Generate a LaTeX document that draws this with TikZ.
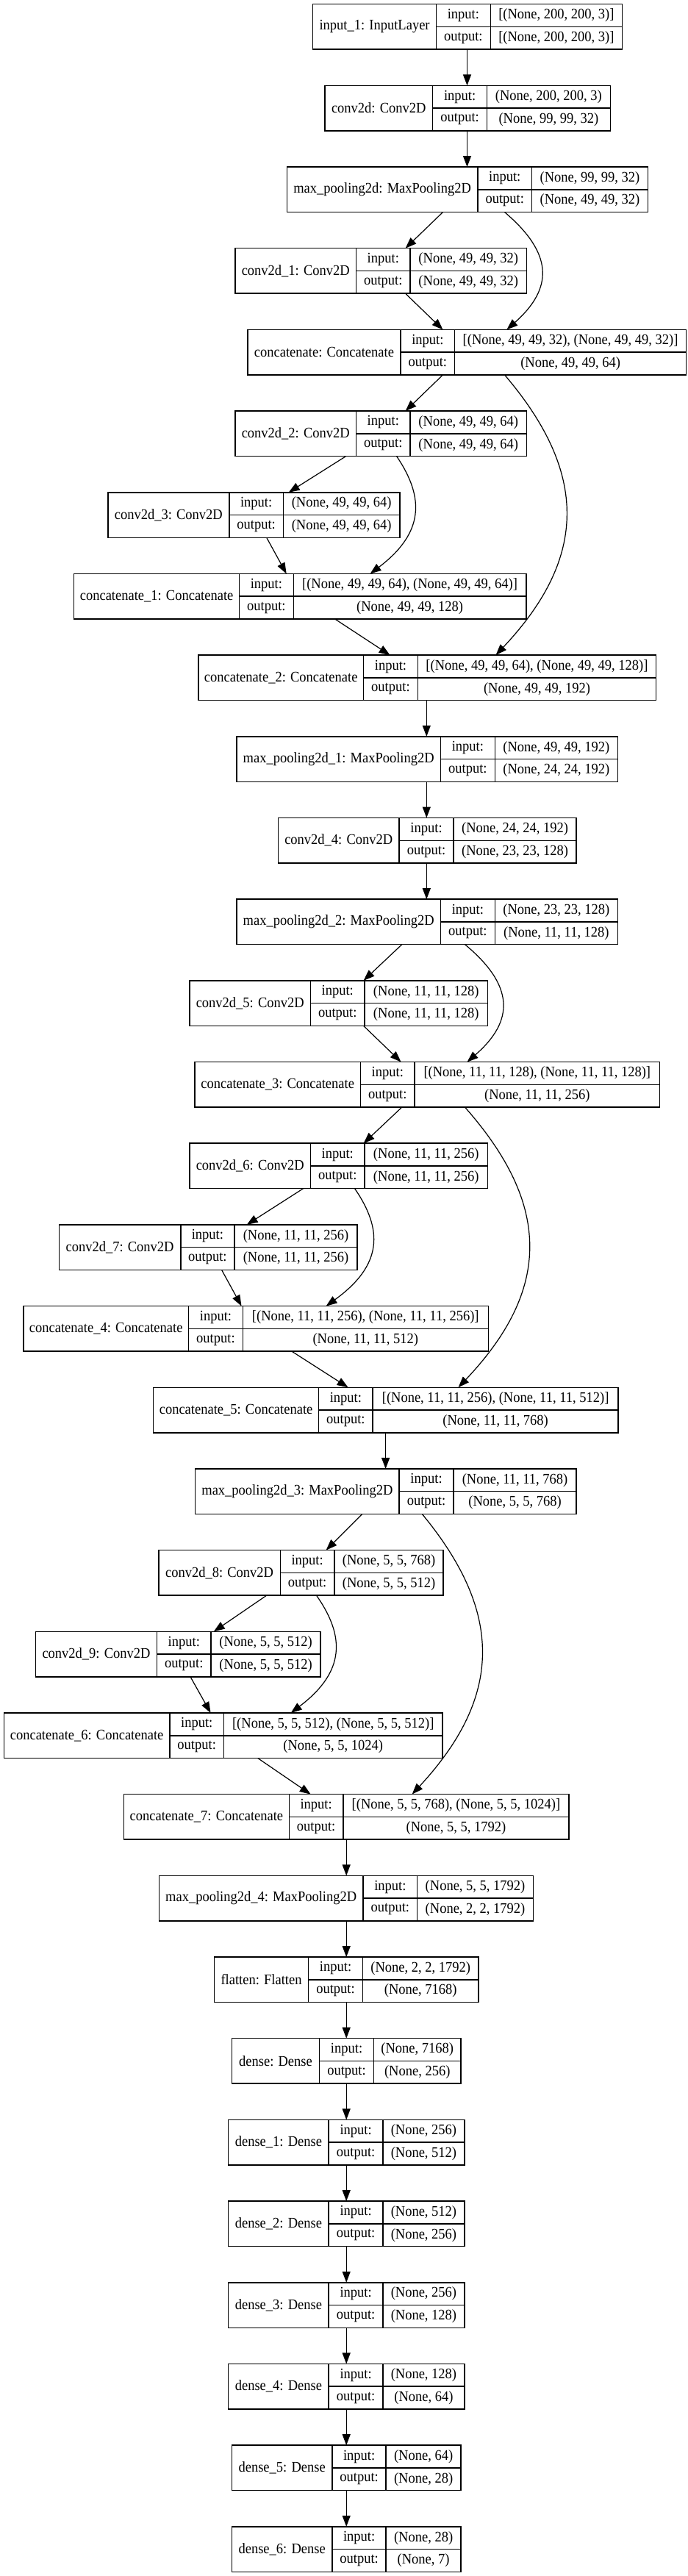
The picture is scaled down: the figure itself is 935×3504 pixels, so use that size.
\documentclass[tikz,border=0pt]{standalone}
\usepackage{fontspec}
\setmainfont[FakeStretch=0.925]{Liberation Serif}
\usetikzlibrary{arrows.meta}
\tikzset{
  box/.style={draw,line width=1.5pt,inner sep=0pt,outer sep=0pt},
  arr/.style={-{Triangle[length=15pt,width=11pt]},line width=1.2pt},
  txt/.style={font=\fontsize{20}{24}\selectfont,inner sep=0pt},
}
\newcommand{\layerbox}[9]{%
  \pgfmathsetmacro{\yt}{5.7+110.68*#2}%
  \pgfmathsetmacro{\yb}{\yt+61.5}%
  \pgfmathsetmacro{\ym}{\yt+30.75}%
  \pgfmathsetmacro{\bw}{#6-#3}%
  \node[box,minimum width=\bw pt,minimum height=61.5pt,anchor=north west] (#1) at (#3,\yt) {};
  \draw[line width=1.5pt] (#4,\yt) -- (#4,\yb);
  \draw[line width=1.5pt] (#5,\yt) -- (#5,\yb);
  \draw[line width=1.5pt] (#4,\ym) -- (#6,\ym);
  \node[txt] (#1-t)  at ({(#3+#4)/2},\ym) {#7};
  \node[txt] (#1-ik) at ({(#4+#5)/2},\yt+15.4) {input:};
  \node[txt] (#1-ok) at ({(#4+#5)/2},\yb-15.4) {output:};
  \node[txt] (#1-iv) at ({(#5+#6)/2},\yt+15.4) {#8};
  \node[txt] (#1-ov) at ({(#5+#6)/2},\yb-15.4) {#9};
}

\begin{document}
\begin{tikzpicture}[x=1pt,y=-1pt]

  % fixed page size
  \useasboundingbox (0,0) rectangle (935,3504);

  % ---------------- layers ----------------
  \layerbox{in0}{0}{425.7}{593.5}{667.3}{846.5}{input\_1: InputLayer}{[(None, 200, 200, 3)]}{[(None, 200, 200, 3)]}
  \layerbox{cv0}{1}{441.8}{588.7}{662.5}{830.3}{conv2d: Conv2D}{(None, 200, 200, 3)}{(None, 99, 99, 32)}
  \layerbox{mp0}{2}{390.3}{649.9}{723.6}{881.3}{max\_pooling2d: MaxPooling2D}{(None, 99, 99, 32)}{(None, 49, 49, 32)}
  \layerbox{cv1}{3}{320.1}{484.4}{558.2}{716.4}{conv2d\_1: Conv2D}{(None, 49, 49, 32)}{(None, 49, 49, 32)}
  \layerbox{cc0}{4}{336.9}{545.0}{618.7}{933.5}{concatenate: Concatenate}{[(None, 49, 49, 32), (None, 49, 49, 32)]}{(None, 49, 49, 64)}
  \layerbox{cv2}{5}{320.1}{484.4}{558.2}{716.4}{conv2d\_2: Conv2D}{(None, 49, 49, 64)}{(None, 49, 49, 64)}
  \layerbox{cv3}{6}{146.9}{311.8}{385.5}{543.8}{conv2d\_3: Conv2D}{(None, 49, 49, 64)}{(None, 49, 49, 64)}
  \layerbox{cc1}{7}{100.7}{325.5}{399.3}{715.8}{concatenate\_1: Concatenate}{[(None, 49, 49, 64), (None, 49, 49, 64)]}{(None, 49, 49, 128)}
  \layerbox{cc2}{8}{269.8}{494.6}{568.3}{892.7}{concatenate\_2: Concatenate}{[(None, 49, 49, 64), (None, 49, 49, 128)]}{(None, 49, 49, 192)}
  \layerbox{mp1}{9}{321.9}{599.5}{673.3}{840.5}{max\_pooling2d\_1: MaxPooling2D}{(None, 49, 49, 192)}{(None, 24, 24, 192)}
  \layerbox{cv4}{10}{378.3}{543.2}{616.9}{784.2}{conv2d\_4: Conv2D}{(None, 24, 24, 192)}{(None, 23, 23, 128)}
  \layerbox{mp2}{11}{321.9}{599.5}{673.3}{840.5}{max\_pooling2d\_2: MaxPooling2D}{(None, 23, 23, 128)}{(None, 11, 11, 128)}
  \layerbox{cv5}{12}{257.8}{422.7}{495.8}{663.7}{conv2d\_5: Conv2D}{(None, 11, 11, 128)}{(None, 11, 11, 128)}
  \layerbox{cc3}{13}{265.0}{490.4}{564.2}{897.5}{concatenate\_3: Concatenate}{[(None, 11, 11, 128), (None, 11, 11, 128)]}{(None, 11, 11, 256)}
  \layerbox{cv6}{14}{257.8}{422.7}{495.8}{663.7}{conv2d\_6: Conv2D}{(None, 11, 11, 256)}{(None, 11, 11, 256)}
  \layerbox{cv7}{15}{80.3}{245.8}{318.9}{486.2}{conv2d\_7: Conv2D}{(None, 11, 11, 256)}{(None, 11, 11, 256)}
  \layerbox{cc4}{16}{31.8}{256.6}{330.3}{664.3}{concatenate\_4: Concatenate}{[(None, 11, 11, 256), (None, 11, 11, 256)]}{(None, 11, 11, 512)}
  \layerbox{cc5}{17}{208.6}{433.5}{507.2}{841.1}{concatenate\_5: Concatenate}{[(None, 11, 11, 256), (None, 11, 11, 512)]}{(None, 11, 11, 768)}
  \layerbox{mp3}{18}{265.6}{543.2}{616.9}{784.2}{max\_pooling2d\_3: MaxPooling2D}{(None, 11, 11, 768)}{(None, 5, 5, 768)}
  \layerbox{cv8}{19}{215.8}{381.3}{455.0}{603.1}{conv2d\_8: Conv2D}{(None, 5, 5, 768)}{(None, 5, 5, 512)}
  \layerbox{cv9}{20}{48.6}{213.4}{287.2}{435.9}{conv2d\_9: Conv2D}{(None, 5, 5, 512)}{(None, 5, 5, 512)}
  \layerbox{cc6}{21}{5.4}{230.8}{304.6}{601.9}{concatenate\_6: Concatenate}{[(None, 5, 5, 512), (None, 5, 5, 512)]}{(None, 5, 5, 1024)}
  \layerbox{cc7}{22}{168.5}{393.3}{467.0}{774.0}{concatenate\_7: Concatenate}{[(None, 5, 5, 768), (None, 5, 5, 1024)]}{(None, 5, 5, 1792)}
  \layerbox{mp4}{23}{216.4}{494.0}{567.7}{725.4}{max\_pooling2d\_4: MaxPooling2D}{(None, 5, 5, 1792)}{(None, 2, 2, 1792)}
  \layerbox{fl}{24}{291.4}{419.7}{493.4}{651.1}{flatten: Flatten}{(None, 2, 2, 1792)}{(None, 7168)}
  \layerbox{ds0}{25}{315.3}{434.7}{508.4}{627.1}{dense: Dense}{(None, 7168)}{(None, 256)}
  \layerbox{ds1}{26}{310.6}{447.2}{521.0}{631.9}{dense\_1: Dense}{(None, 256)}{(None, 512)}
  \layerbox{ds2}{27}{310.6}{447.2}{521.0}{631.9}{dense\_2: Dense}{(None, 512)}{(None, 256)}
  \layerbox{ds3}{28}{310.6}{447.2}{521.0}{631.9}{dense\_3: Dense}{(None, 256)}{(None, 128)}
  \layerbox{ds4}{29}{310.6}{447.2}{521.0}{631.9}{dense\_4: Dense}{(None, 128)}{(None, 64)}
  \layerbox{ds5}{30}{315.3}{452.0}{525.2}{627.1}{dense\_5: Dense}{(None, 64)}{(None, 28)}
  \layerbox{ds6}{31}{315.3}{452.0}{525.2}{627.1}{dense\_6: Dense}{(None, 28)}{(None, 7)}

  % ---------------- straight links ----------------
  \draw[arr] (in0.south -| 635.5,0) -- (cv0.north -| 635.5,0);
  \draw[arr] (cv0.south -| 635.5,0) -- (mp0.north -| 635.5,0);
  \draw[arr] (mp0.south -| 602.5,0) -- (cv1.north -| 551.6,0);
  \draw[arr] (cv1.south -| 551.6,0) -- (cc0.north -| 602.5,0);
  \draw[arr] (cc0.south -| 602.5,0) -- (cv2.north -| 551.6,0);
  \draw[arr] (cv2.south -| 470.6,0) -- (cv3.north -| 392.7,0);
  \draw[arr] (cv3.south -| 362.7,0) -- (cc1.north -| 389.7,0);
  \draw[arr] (cc1.south -| 455.6,0) -- (cc2.north -| 530.6,0);
  \draw[arr] (cc2.south -| 580.3,0) -- (mp1.north -| 580.3,0);
  \draw[arr] (mp1.south -| 580.3,0) -- (cv4.north -| 580.3,0);
  \draw[arr] (cv4.south -| 580.3,0) -- (mp2.north -| 580.3,0);
  \draw[arr] (mp2.south -| 546.8,0) -- (cv5.north -| 494.6,0);
  \draw[arr] (cv5.south -| 494.6,0) -- (cc3.north -| 545.6,0);
  \draw[arr] (cc3.south -| 546.8,0) -- (cv6.north -| 494.6,0);
  \draw[arr] (cv6.south -| 412.5,0) -- (cv7.north -| 335.7,0);
  \draw[arr] (cv7.south -| 301.6,0) -- (cc4.north -| 328.5,0);
  \draw[arr] (cc4.south -| 396.9,0) -- (cc5.north -| 473.6,0);
  \draw[arr] (cc5.south -| 524.6,0) -- (mp3.north -| 524.6,0);
  \draw[arr] (mp3.south -| 492.8,0) -- (cv8.north -| 443.6,0);
  \draw[arr] (cv8.south -| 362.7,0) -- (cv9.north -| 290.8,0);
  \draw[arr] (cv9.south -| 259.0,0) -- (cc6.north -| 286.6,0);
  \draw[arr] (cc6.south -| 350.7,0) -- (cc7.north -| 422.7,0);
  \foreach \a/\b in {cc7/mp4,mp4/fl,fl/ds0,ds0/ds1,ds1/ds2,ds2/ds3,ds3/ds4,ds4/ds5,ds5/ds6}
    \draw[arr] (\a.south -| 471.2,0) -- (\b.north -| 471.2,0);

  % ---------------- skip links ----------------
  \draw[arr] (mp0.south -| 686.5,0) .. controls (753,345) and (753,392) .. (cc0.north -| 689.4,0);
  \draw[arr] (cc0.south -| 686.5,0) .. controls (800,643) and (800,758) .. (cc2.north -| 674.5,0);
  \draw[arr] (cv2.south -| 539.6,0) .. controls (577.5,676.6) and (577.5,724.5) .. (cc1.north -| 503.6,0);
  \draw[arr] (mp2.south -| 632.5,0) .. controls (700,1340.6) and (700,1388.6) .. (cc3.north -| 635.5,0);
  \draw[arr] (cc3.south -| 632.5,0) .. controls (750,1639) and (750,1754) .. (cc5.north -| 623.5,0);
  \draw[arr] (cv6.south -| 482.6,0) .. controls (521,1672.7) and (521,1720.6) .. (cc4.north -| 443.6,0);
  \draw[arr] (mp3.south -| 574.3,0) .. controls (684.5,2192.9) and (684.5,2307.2) .. (cc7.north -| 560.6,0);
  \draw[arr] (cv8.south -| 430.5,0) .. controls (469.7,2226) and (469.7,2274) .. (cc6.north -| 395.7,0);

\end{tikzpicture}
\end{document}
